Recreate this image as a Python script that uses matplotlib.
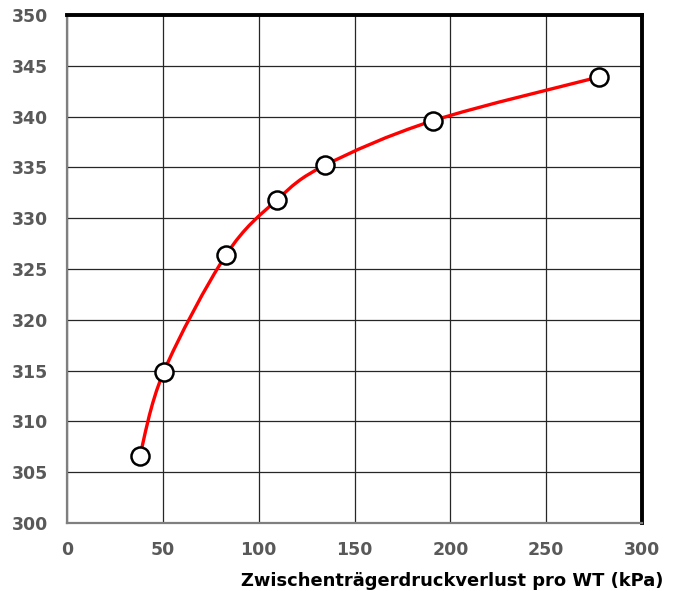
import numpy as np
import matplotlib
matplotlib.use('Agg')
import matplotlib.pyplot as plt
from matplotlib.path import Path
from matplotlib.patches import PathPatch

# pressure loss per heat exchanger (kPa) vs. y-value
druckverlust = [38, 50.5, 83, 109.5, 134.5, 191, 277.5]
werte = [306.6, 314.9, 326.4, 331.8, 335.2, 339.6, 343.9]

x_ticks = [0, 50, 100, 150, 200, 250, 300]
y_ticks = [300, 305, 310, 315, 320, 325, 330, 335, 340, 345, 350]
x_label = 'Zwischenträgerdruckverlust pro WT (kPa)'


def smooth_path(xs, ys):
    # Excel-style smoothed line: cubic Bezier segments (Catmull-Rom control points)
    pts = np.column_stack([xs, ys])
    n = len(pts)
    verts = [tuple(pts[0])]
    codes = [Path.MOVETO]
    for i in range(n - 1):
        p0 = pts[i - 1] if i > 0 else pts[i]
        p1 = pts[i]
        p2 = pts[i + 1]
        p3 = pts[i + 2] if i + 2 < n else pts[i + 1]
        c1 = p1 + (p2 - p0) / 6.0
        c2 = p2 - (p3 - p1) / 6.0
        verts += [tuple(c1), tuple(c2), tuple(p2)]
        codes += [Path.CURVE4] * 3
    return Path(verts, codes)


plt.rcParams['font.family'] = ['DejaVu Sans']

fig = plt.figure(figsize=(6.79, 5.91), dpi=100)
ax = fig.add_axes([0.0987, 0.1151, 0.8468, 0.8595])

ax.set_xlim(0, 300)
ax.set_ylim(300, 350)
ax.set_xticks(x_ticks)
ax.set_yticks(y_ticks)
ax.grid(True, color='#262626', lw=0.9)
ax.set_axisbelow(True)

line = PathPatch(smooth_path(druckverlust, werte), facecolor='none',
                 edgecolor='#ff0000', lw=2.4, zorder=3)
ax.add_patch(line)
ax.plot(druckverlust, werte, ls='none', marker='o', ms=13, mfc='white',
        mec='black', mew=1.8, zorder=4)

ax.tick_params(length=0, labelsize=12.5, labelcolor='#595959')
ax.tick_params(axis='y', pad=13.5)
ax.tick_params(axis='x', pad=13)
for lab in ax.get_xticklabels() + ax.get_yticklabels():
    lab.set_fontweight('bold')

for side in ['left', 'bottom']:
    ax.spines[side].set_color('#7f7f7f')
    ax.spines[side].set_linewidth(1.6)
for side in ['top', 'right']:
    ax.spines[side].set_color('black')
    ax.spines[side].set_linewidth(2.8)

fig.text(0.977, 0.008, x_label, ha='right', va='baseline', fontsize=12.9,
         fontweight='bold', color='black')

plt.savefig('out.png', dpi=100)
plt.close()
